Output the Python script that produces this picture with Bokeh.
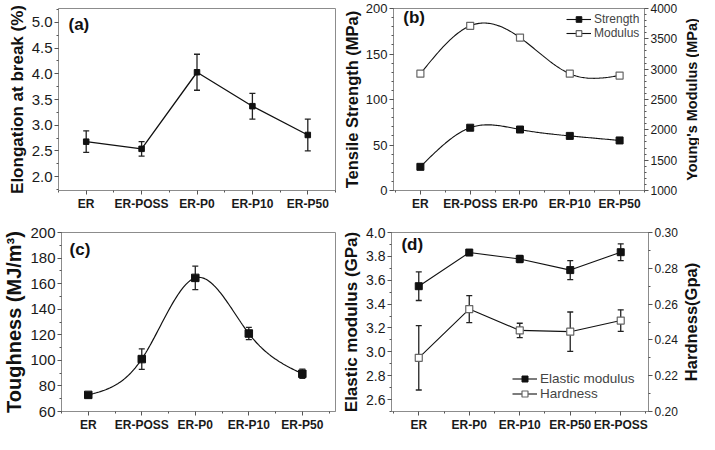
import numpy as np
from bokeh.plotting import figure
from bokeh.models import (Range1d, LinearAxis, FixedTicker, SingleIntervalTicker,
                          ColumnDataSource, Whisker, TeeHead, Label, Legend, LegendItem,
                          NumeralTickFormatter)
from bokeh.layouts import row, column
from bokeh.embed import file_html
from bokeh.resources import INLINE

# ---------------- data ----------------
cats_abc = ["ER", "ER-POSS", "ER-P0", "ER-P10", "ER-P50"]
cats_d = ["ER", "ER-P0", "ER-P10", "ER-P50", "ER-POSS"]
xpos = [1, 2, 3, 4, 5]

elong = [2.68, 2.54, 4.03, 3.37, 2.81]
elong_err = [0.21, 0.14, 0.35, 0.25, 0.31]

strength = [26, 69, 67, 60, 55]
modulus = [2925, 3715, 3520, 2925, 2895]

tough = [73, 101, 164.5, 121, 89.5]
tough_err = [1.5, 8.0, 9.2, 4.8, 3.6]

elastic = [3.55, 3.832, 3.778, 3.685, 3.835]
elastic_err = [0.12, 0.01, 0.03, 0.08, 0.07]
hardness = [0.2300, 0.2572, 0.2453, 0.2446, 0.2508]
hardness_err = [0.018, 0.0075, 0.004, 0.011, 0.006]

FONT = "Liberation Sans"
GRAY = "#8c8c8c"
TICK = "#555555"


def spline_curve(xs, ys, n=40):
    """Natural cubic spline connector through the data points (line style)."""
    xs = np.asarray(xs, float)
    ys = np.asarray(ys, float)
    k = len(xs)
    h = np.diff(xs)
    A = np.zeros((k, k))
    b = np.zeros(k)
    A[0, 0] = A[-1, -1] = 1.0
    for i in range(1, k - 1):
        A[i, i - 1] = h[i - 1]
        A[i, i] = 2 * (h[i - 1] + h[i])
        A[i, i + 1] = h[i]
        b[i] = 6 * ((ys[i + 1] - ys[i]) / h[i] - (ys[i] - ys[i - 1]) / h[i - 1])
    M = np.linalg.solve(A, b)
    xx, yy = [], []
    for i in range(k - 1):
        t = np.linspace(xs[i], xs[i + 1], n, endpoint=(i == k - 2))
        a = xs[i + 1] - t
        c = t - xs[i]
        y = (M[i] * a ** 3 / (6 * h[i]) + M[i + 1] * c ** 3 / (6 * h[i])
             + (ys[i] / h[i] - M[i] * h[i] / 6) * a
             + (ys[i + 1] / h[i] - M[i + 1] * h[i] / 6) * c)
        xx.extend(t.tolist())
        yy.extend(y.tolist())
    return xx, yy


def make_fig(w, h, xr, yr, bl, br, bt, bb):
    p = figure(width=w, height=h, x_range=Range1d(*xr), y_range=Range1d(*yr),
               output_backend="svg", toolbar_location=None,
               min_border_left=bl, min_border_right=br,
               min_border_top=bt, min_border_bottom=bb)
    p.grid.visible = False
    p.outline_line_color = GRAY
    p.outline_line_width = 1
    p.background_fill_color = "white"
    p.border_fill_color = "white"
    return p


def style_axis(ax, tick_size, title_size, bold_ticks=False, standoff=2):
    ax.axis_line_color = GRAY
    ax.major_tick_line_color = TICK
    ax.minor_tick_line_color = TICK
    ax.major_tick_out = 4
    ax.major_tick_in = 0
    ax.minor_tick_out = 2
    ax.minor_tick_in = 0
    ax.major_label_text_font = FONT
    ax.major_label_text_font_size = tick_size
    ax.major_label_text_color = "#1a1a1a"
    ax.major_label_text_font_style = "bold" if bold_ticks else "normal"
    ax.major_label_standoff = standoff
    ax.axis_label_text_font = FONT
    ax.axis_label_text_font_size = title_size
    ax.axis_label_text_font_style = "bold"
    ax.axis_label_text_color = "#111111"
    ax.axis_label_standoff = 2


def cat_xaxis(p, cats):
    ax = p.xaxis[0]
    ax.ticker = FixedTicker(ticks=xpos, minor_ticks=[x - 0.5 for x in xpos] + [xpos[-1] + 0.5])
    ax.major_label_overrides = {x: c for x, c in zip(xpos, cats)}
    style_axis(ax, "12px", "12px", bold_ticks=True, standoff=2)


def title_fig(text, size, w, h, bt, bb):
    """Narrow figure holding only a rotated (bottom-to-top) axis title."""
    t = figure(width=w, height=h, x_range=Range1d(0, 1), y_range=Range1d(0, 1),
               output_backend="svg", toolbar_location=None,
               min_border_left=w - 2, min_border_right=0, min_border_top=bt, min_border_bottom=bb)
    t.xaxis.visible = False
    t.grid.visible = False
    t.outline_line_color = None
    t.background_fill_color = "white"
    t.border_fill_color = "white"
    ax = t.yaxis[0]
    ax.ticker = FixedTicker(ticks=[])
    ax.axis_line_color = None
    ax.major_tick_line_color = None
    ax.minor_tick_line_color = None
    ax.major_tick_out = 0
    ax.minor_tick_out = 0
    ax.major_label_standoff = 0
    ax.axis_label = text
    ax.axis_label_standoff = 0
    ax.axis_label_text_font = FONT
    ax.axis_label_text_font_size = size
    ax.axis_label_text_font_style = "bold"
    ax.axis_label_text_color = "#111111"
    return t


def panel_label(p, txt, x, y):
    p.add_layout(Label(x=x, y=y, text=txt, text_font=FONT, text_font_size="17px",
                       text_font_style="bold", text_baseline="middle", text_color="#111111"))


def errbars(p, vals, errs, rng="default"):
    src = ColumnDataSource(dict(x=xpos,
                                up=[v + e for v, e in zip(vals, errs)],
                                lo=[v - e for v, e in zip(vals, errs)]))
    w = Whisker(source=src, base="x", upper="up", lower="lo", dimension="height",
                line_color="#222222", line_width=1.3, y_range_name=rng,
                upper_head=TeeHead(size=6, line_color="#222222", line_width=1.3),
                lower_head=TeeHead(size=6, line_color="#222222", line_width=1.3),
                level="underlay")
    p.add_layout(w)


# ---------------- (a) ----------------
pa = make_fig(339, 217, (0.5, 5.5), (1.73, 5.27), 58, 4, 0, 23)
pa.line(xpos, elong, line_color="#111111", line_width=1.3)
errbars(pa, elong, elong_err)
pa.scatter(xpos, elong, marker="square", size=5.5, fill_color="#111111", line_color="#111111")
cat_xaxis(pa, cats_abc)
ya = pa.yaxis[0]
ya.ticker = SingleIntervalTicker(interval=0.5, num_minor_ticks=2)
ya.formatter = NumeralTickFormatter(format="0.0")
ya.axis_label = "Elongation at break (%)"
style_axis(ya, "15px", "17px")
panel_label(pa, "(a)", 0.68, 4.95)

# ---------------- (b) ----------------
pb = make_fig(341, 217, (0.46, 5.5), (0, 200), 50, 34, 8, 27)
pb.extra_y_ranges = {"r": Range1d(1000, 4000)}
sx, sy = spline_curve(xpos, strength)
mx, my = spline_curve(xpos, modulus)
l1 = pb.line(sx, sy, line_color="#111111", line_width=1.1)
l2 = pb.line(mx, my, line_color="#111111", line_width=1.1, y_range_name="r")
s1 = pb.scatter(xpos, strength, marker="square", size=7, fill_color="#111111", line_color="#111111")
s2 = pb.scatter(xpos, modulus, marker="square", size=7, fill_color="white", line_color="#666666",
                line_width=1.2, y_range_name="r")
cat_xaxis(pb, cats_abc)
yb = pb.yaxis[0]
yb.ticker = SingleIntervalTicker(interval=50, num_minor_ticks=5)
yb.axis_label = "Tensile Strength (MPa)"
style_axis(yb, "13px", "16.5px")
rb = LinearAxis(y_range_name="r", ticker=SingleIntervalTicker(interval=500, num_minor_ticks=5))
style_axis(rb, "12px", "12px", standoff=2)
pb.add_layout(rb, "right")
legb = Legend(items=[LegendItem(label="Strength", renderers=[l1, s1]),
                     LegendItem(label="Modulus", renderers=[l2, s2])],
              location=(173, 150), label_text_font=FONT, label_text_font_size="12px",
              label_height=14, glyph_height=14, glyph_width=25, label_standoff=3,
              spacing=0, padding=0, margin=0, border_line_alpha=0, background_fill_alpha=0)
pb.add_layout(legb)
panel_label(pb, "(b)", 0.656, 190)
tb = title_fig("Young's Modulus (MPa)", "14.5px", 19, 217, 8, 27)

# ---------------- (c) ----------------
pc = make_fig(339, 217, (0.5, 5.62), (60, 200), 52, 4, 13, 20)
tx, ty = spline_curve(xpos, tough)
pc.line(tx, ty, line_color="#111111", line_width=1.2)
errbars(pc, tough, tough_err)
pc.scatter(xpos, tough, marker="square", size=7.5, fill_color="#111111", line_color="#111111")
cat_xaxis(pc, cats_abc)
yc = pc.yaxis[0]
yc.ticker = SingleIntervalTicker(interval=20, num_minor_ticks=2)
yc.axis_label = "Toughness (MJ/m³)"
style_axis(yc, "15px", "20px")
panel_label(pc, "(c)", 0.65, 186.5)

# ---------------- (d) ----------------
pd_ = make_fig(341, 217, (0.46, 5.55), (2.5, 4.0), 50, 32, 15, 20)
pd_.extra_y_ranges = {"r": Range1d(0.20, 0.30)}
l3 = pd_.line(xpos, elastic, line_color="#111111", line_width=1.1)
l4 = pd_.line(xpos, hardness, line_color="#111111", line_width=1.1, y_range_name="r")
errbars(pd_, elastic, elastic_err)
errbars(pd_, hardness, hardness_err, rng="r")
s3 = pd_.scatter(xpos, elastic, marker="square", size=7, fill_color="#111111", line_color="#111111")
s4 = pd_.scatter(xpos, hardness, marker="square", size=7, fill_color="white", line_color="#666666",
                 line_width=1.2, y_range_name="r")
cat_xaxis(pd_, cats_d)
yd = pd_.yaxis[0]
yd.ticker = SingleIntervalTicker(interval=0.2, num_minor_ticks=2)
yd.formatter = NumeralTickFormatter(format="0.0")
yd.axis_label = "Elastic modulus (GPa)"
style_axis(yd, "14px", "17px")
rd = LinearAxis(y_range_name="r",
                ticker=SingleIntervalTicker(interval=0.02, num_minor_ticks=2),
                formatter=NumeralTickFormatter(format="0.00"))
style_axis(rd, "12px", "12px", standoff=2)
pd_.add_layout(rd, "right")
legd = Legend(items=[LegendItem(label="Elastic modulus", renderers=[l3, s3]),
                     LegendItem(label="Hardness", renderers=[l4, s4])],
              location=(121, 10), label_text_font=FONT, label_text_font_size="13.5px",
              label_height=15, glyph_height=15, glyph_width=25, label_standoff=3,
              spacing=0, padding=0, margin=0, border_line_alpha=0, background_fill_alpha=0)
pd_.add_layout(legd)
panel_label(pd_, "(d)", 0.656, 3.90)
td = title_fig("Hardness(Gpa)", "16.5px", 19, 217, 15, 20)

layout = column(row(pa, pb, tb), row(pc, pd_, td))

open("out.html", "w").write(file_html(layout, INLINE))
